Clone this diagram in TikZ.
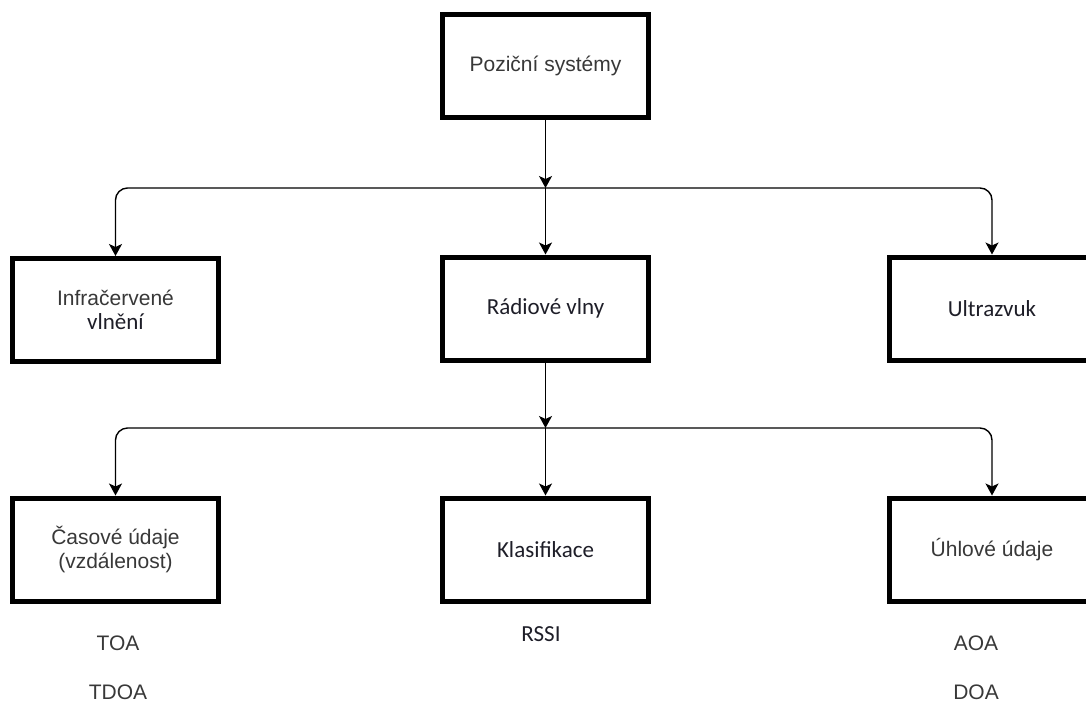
\documentclass[tikz,border=0pt]{standalone}
\usepackage{fontspec}
\setmainfont{Liberation Sans}
\newfontfamily\calfont{Carlito}
\usetikzlibrary{arrows.meta}
\definecolor{txtgray}{HTML}{383838}
\definecolor{txtdark}{HTML}{1E1E28}
\newcommand{\sanstxt}{\fontsize{21}{24}\selectfont\color{txtgray}}
\newcommand{\caltxt}{\calfont\fontsize{23}{24}\selectfont\color{txtdark}}
\tikzset{
  box/.style={draw=black, line width=5pt, fill=white, minimum width=206pt,
    minimum height=103pt, inner sep=0pt, align=center,
    font=\fontsize{21}{24}\selectfont},
  arr/.style={draw=black, line width=1.4pt,
    -{Stealth[length=12pt, width=13pt, inset=3pt]}},
  branch/.style={arr, rounded corners=12pt},
  tag/.style={inner sep=0pt, font=\sanstxt}
}
\begin{document}
\begin{tikzpicture}[x=1pt, y=-1pt]
  \useasboundingbox (0,0) rectangle (1086,702);

  % level 0
  \node[box] (poz) at (545.5,66) {\sanstxt Poziční systémy};

  % level 1
  \node[box] (inf) at (115.5,310) {{\sanstxt Infračervené}\\{\caltxt vlnění}};
  \node[box] (rad) at (545.5,308.5) {\caltxt Rádiové vlny};
  \node[box] (ult) at (992,308.5) {\caltxt Ultrazvuk};

  % level 2
  \node[box] (cas) at (115.5,549.5) {{\sanstxt Časové údaje}\\{\sanstxt (vzdálenost)}};
  \node[box] (kla) at (545.5,549.5) {\caltxt Klasifikace};
  \node[box] (uhl) at (992,549.5) {\sanstxt Úhlové údaje};

  % methods under the level-2 boxes
  \node[tag] (toa) at (118,643) {TOA};
  \node[tag] (tdoa) at (118,692) {TDOA};
  \node[tag, font=\caltxt] (rssi) at (541,634) {RSSI};
  \node[tag] (aoa) at (976,643) {AOA};
  \node[tag] (doa) at (976,692) {DOA};

  % junction points of the branches
  \coordinate (j1) at (545.5,188);
  \coordinate (j2) at (545.5,428);

  % connectors
  \draw[arr] (poz.south) -- (j1);
  \draw[arr] (j1) -- (rad.north);
  \draw[branch] (j1) -| (inf.north);
  \draw[branch] (j1) -| (ult.north);

  \draw[arr] (rad.south) -- (j2);
  \draw[arr] (j2) -- (kla.north);
  \draw[branch] (j2) -| (cas.north);
  \draw[branch] (j2) -| (uhl.north);
\end{tikzpicture}
\end{document}
